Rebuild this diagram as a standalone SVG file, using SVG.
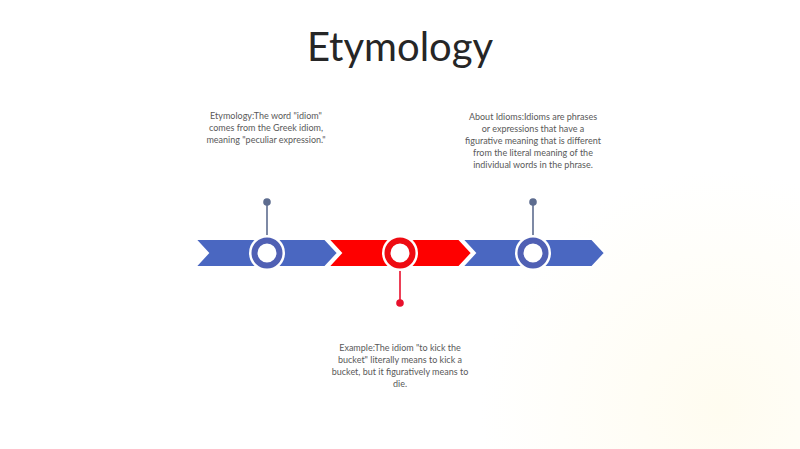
<svg xmlns="http://www.w3.org/2000/svg" width="800" height="449" viewBox="0 0 800 449">
<defs>
<style>
.title{font-family:Lato,"Open Sans","Liberation Sans",sans-serif;font-size:40px;fill:#262626;text-anchor:middle}
.lbl{font-family:Lato,"Open Sans","Liberation Sans",sans-serif;font-size:9px;fill:#595959;text-anchor:middle}
.seg{stroke:#fff;stroke-width:2;stroke-linejoin:miter}
.blue{fill:#4a67c1}
.red{fill:#fe0000}
.ringb{fill:#fff;stroke:#5060b4;stroke-width:6}
.ringr{fill:#fff;stroke:#ee0b12;stroke-width:6}
.halo{fill:#fff}
.pinb{stroke:#5d6c8f;stroke-width:1.6}
.pinr{stroke:#e8102c;stroke-width:1.6}
</style>
<radialGradient id="bg" cx="720" cy="410" r="240" gradientUnits="userSpaceOnUse">
<stop offset="0" stop-color="#fffcf0"/>
<stop offset="1" stop-color="#ffffff"/>
</radialGradient>
</defs>
<rect width="800" height="449" fill="url(#bg)"/>
<text class="title" x="400" y="61">Etymology</text>
<g id="connectors">
<line class="pinb" x1="267" y1="202" x2="267" y2="238"/>
<circle cx="267" cy="202" r="3.8" fill="#5d6c8f"/>
<line class="pinb" x1="533" y1="202" x2="533" y2="238"/>
<circle cx="533" cy="202" r="3.8" fill="#5d6c8f"/>
<line class="pinr" x1="400" y1="268" x2="400" y2="303"/>
<circle cx="400" cy="303" r="3.8" fill="#e8102c"/>
</g>
<g id="seg1"><polygon class="seg blue" points="195,239 325,239 338,253 325,267 195,267 208,253"/></g>
<g id="seg2"><polygon class="seg red" points="328,239 459,239 472,253 459,267 328,267 341,253"/></g>
<g id="seg3"><polygon class="seg blue" points="462,239 592,239 605,253 592,267 462,267 475,253"/></g>
<g id="node1">
<circle class="halo" cx="267" cy="253" r="18"/>
<circle class="ringb" cx="267" cy="253" r="12.5"/>
<text class="lbl" x="266" y="119">Etymology:The word "idiom"</text>
<text class="lbl" x="266" y="131">comes from the Greek idiom,</text>
<text class="lbl" x="266" y="143">meaning "peculiar expression."</text>
</g>
<g id="node2">
<circle class="halo" cx="400" cy="253" r="18"/>
<circle class="ringr" cx="400" cy="253" r="12.5"/>
<text class="lbl" x="400" y="351">Example:The idiom "to kick the</text>
<text class="lbl" x="400" y="363">bucket" literally means to kick a</text>
<text class="lbl" x="400" y="375">bucket, but it figuratively means to</text>
<text class="lbl" x="400" y="387">die.</text>
</g>
<g id="node3">
<circle class="halo" cx="533" cy="253" r="18"/>
<circle class="ringb" cx="533" cy="253" r="12.5"/>
<text class="lbl" x="533" y="120">About Idioms:Idioms are phrases</text>
<text class="lbl" x="533" y="132">or expressions that have a</text>
<text class="lbl" x="533" y="144">figurative meaning that is different</text>
<text class="lbl" x="533" y="156">from the literal meaning of the</text>
<text class="lbl" x="533" y="168">individual words in the phrase.</text>
</g>
</svg>
